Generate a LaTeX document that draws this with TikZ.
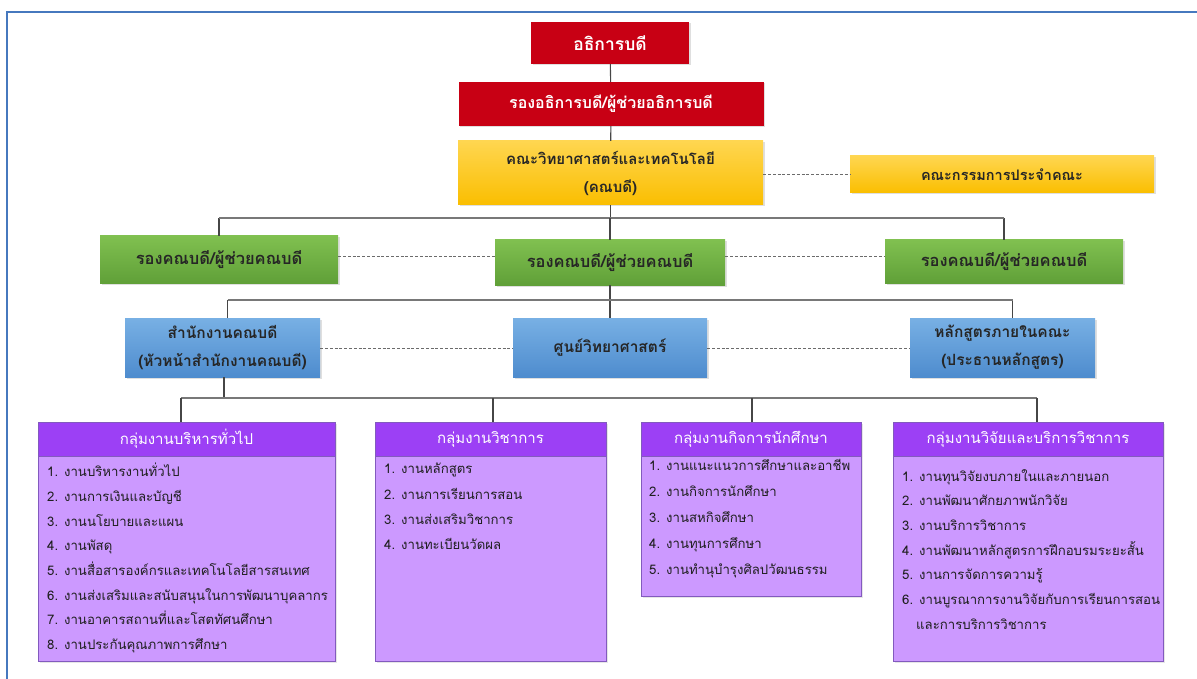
\documentclass[tikz,border=0pt]{standalone}
\usepackage{fontspec}
\setmainfont[Script=Thai]{Loma}
\usetikzlibrary{shadows,calc}
\definecolor{redbox}{RGB}{200,0,20}
\definecolor{yeltop}{RGB}{255,214,80}
\definecolor{yelbot}{RGB}{250,190,0}
\definecolor{grtop}{RGB}{128,192,80}
\definecolor{grbot}{RGB}{96,160,56}
\definecolor{bltop}{RGB}{120,176,228}
\definecolor{blbot}{RGB}{78,140,206}
\definecolor{purhead}{RGB}{156,64,245}
\definecolor{purbody}{RGB}{204,153,255}
\definecolor{purline}{RGB}{130,90,190}
\definecolor{frameblue}{RGB}{70,120,190}
\definecolor{linegray}{RGB}{70,70,70}
\definecolor{busgray}{RGB}{120,120,120}
\tikzset{
  box/.style={rectangle, inner sep=2pt, align=center, font=\fontsize{16}{28}\selectfont\bfseries,
    drop shadow={opacity=0.25, shadow xshift=1.5pt, shadow yshift=-1.5pt}},
  redb/.style={box, fill=redbox, text=white},
  yelb/.style={box, top color=yeltop, bottom color=yelbot, text=black!85, font=\fontsize{15}{28}\selectfont\bfseries},
  greenb/.style={box, top color=grtop, bottom color=grbot, text=black!85, font=\fontsize{16.5}{28}\selectfont\bfseries},
  blueb/.style={box, top color=bltop, bottom color=blbot, text=black!85, font=\fontsize{15.5}{28}\selectfont\bfseries},
  phead/.style={rectangle, fill=purhead, draw=purline, line width=0.6pt, text=white, inner sep=0pt,
    font=\fontsize{15}{18}\selectfont, minimum height=34pt},
  pbody/.style={rectangle, fill=purbody, draw=purline, line width=0.8pt, inner sep=0pt,
    drop shadow={opacity=0.2, shadow xshift=1.5pt, shadow yshift=-1.5pt}},
  plist/.style={anchor=north west, align=left, inner sep=0pt, text=black!88,
    font=\fontsize{13.2}{24.7}\selectfont},
  conn/.style={draw=linegray, line width=1.1pt},
  busln/.style={draw=busgray, line width=1.3pt},
  dashln/.style={draw=linegray!80, line width=0.9pt, dash pattern=on 3pt off 1.8pt},
}
\begin{document}
\begin{tikzpicture}[x=1pt,y=-1pt]
\useasboundingbox (0,0) rectangle (1197,679);
% frame
\draw[frameblue, line width=2.2pt] (7,679) -- (7,12) -- (1197,12);

% top boxes
\node[redb, minimum width=158pt, minimum height=42pt, font=\fontsize{17.5}{28}\selectfont\bfseries] (vc) at (610,43) {อธิการบดี};
\node[redb, minimum width=305pt, minimum height=44pt] (vp) at (611,104) {รองอธิการบดี/ผู้ช่วยอธิการบดี};
\node[yelb, minimum width=305pt, minimum height=64pt] (dean) at (610.5,173) {คณะวิทยาศาสตร์และเทคโนโลยี\\(คณบดี)};
\node[yelb, minimum width=304pt, minimum height=37pt, font=\fontsize{14.5}{28}\selectfont\bfseries] (comm) at (1002,174.5) {คณะกรรมการประจำคณะ};

% green
\node[greenb, minimum width=238pt, minimum height=47pt] (g1) at (219,259.5) {รองคณบดี/ผู้ช่วยคณบดี};
\node[greenb, minimum width=230pt, minimum height=45pt] (g2) at (610,262.5) {รองคณบดี/ผู้ช่วยคณบดี};
\node[greenb, minimum width=238pt, minimum height=43pt] (g3) at (1004,261.5) {รองคณบดี/ผู้ช่วยคณบดี};

% blue
\node[blueb, minimum width=195pt, minimum height=59pt] (b1) at (222.5,347.5) {สำนักงานคณบดี\\(หัวหน้าสำนักงานคณบดี)};
\node[blueb, minimum width=194pt, minimum height=59pt] (b2) at (610,347.5) {ศูนย์วิทยาศาสตร์};
\node[blueb, minimum width=185pt, minimum height=59pt] (b3) at (1002.5,347.5) {หลักสูตรภายในคณะ\\(ประธานหลักสูตร)};

% purple bodies
\node[pbody, minimum width=297pt, minimum height=239pt] (p1b) at (186.5,541.5) {};
\node[pbody, minimum width=231pt, minimum height=239pt] (p2b) at (490.5,541.5) {};
\node[pbody, minimum width=220pt, minimum height=174pt] (p3b) at (751,509) {};
\node[pbody, minimum width=270pt, minimum height=239pt] (p4b) at (1028,541.5) {};
% purple headers
\node[phead, minimum width=297pt] (p1h) at (186.5,439) {กลุ่มงานบริหารทั่วไป};
\node[phead, minimum width=231pt] (p2h) at (490.5,439) {กลุ่มงานวิชาการ};
\node[phead, minimum width=220pt] (p3h) at (751,439) {กลุ่มงานกิจการนักศึกษา};
\node[phead, minimum width=270pt] (p4h) at (1028,439) {กลุ่มงานวิจัยและบริการวิชาการ};

% lists
\node[plist] (p1l) at (47,463) {1. งานบริหารงานทั่วไป\\2. งานการเงินและบัญชี\\3. งานนโยบายและแผน\\4. งานพัสดุ\\5. งานสื่อสารองค์กรและเทคโนโลยีสารสนเทศ\\6. งานส่งเสริมและสนับสนุนในการพัฒนาบุคลากร\\7. งานอาคารสถานที่และโสตทัศนศึกษา\\8. งานประกันคุณภาพการศึกษา};
\node[plist, font=\fontsize{13.2}{25.3}\selectfont] (p2l) at (384,463) {1. งานหลักสูตร\\2. งานการเรียนการสอน\\3. งานส่งเสริมวิชาการ\\4. งานทะเบียนวัดผล};
\node[plist, font=\fontsize{13.2}{26}\selectfont] (p3l) at (649,459) {1. งานแนะแนวการศึกษาและอาชีพ\\2. งานกิจการนักศึกษา\\3. งานสหกิจศึกษา\\4. งานทุนการศึกษา\\5. งานทำนุบำรุงศิลปวัฒนธรรม};
\node[plist] (p4l) at (902,469) {1. งานทุนวิจัยงบภายในและภายนอก\\2. งานพัฒนาศักยภาพนักวิจัย\\3. งานบริการวิชาการ\\4. งานพัฒนาหลักสูตรการฝึกอบรมระยะสั้น\\5. งานการจัดการความรู้\\6. งานบูรณาการงานวิจัยกับการเรียนการสอน\\\hspace*{14pt}และการบริการวิชาการ};

% connectors
\coordinate (bus1) at (0,218);
\coordinate (bus2) at (0,300);
\coordinate (bus3) at (0,398);
\coordinate (t1) at (181,398);
\coordinate (t2) at (493,398);
\coordinate (t3) at (752,398);
\coordinate (t4) at (1037,398);
\draw[conn] (vc) -- (vp);
\draw[conn] (vp) -- (dean);
\draw[conn] (dean.south) -- (dean.south |- bus1);
\draw[conn] (g1.north) -- (g1.north |- bus1);
\draw[conn] (g3.north |- bus1) -- (g3.north);
\draw[busln] (g1.north |- bus1) -- (g3.north |- bus1);
\draw[conn] (g2.north |- bus1) -- (g2.north);
\draw[conn] (g2.south) -- (b2.north);
\draw[conn] ($(b1.north)+(5,0)$) -- ($(b1.north |- bus2)+(5,0)$);
\draw[conn] ($(b3.north |- bus2)+(10,0)$) -- ($(b3.north)+(10,0)$);
\draw[busln] ($(b1.north |- bus2)+(5,0)$) -- ($(b3.north |- bus2)+(10,0)$);
\draw[conn] ($(b1.south)+(1.5,0)$) -- ($(b1.south |- bus3)+(1.5,0)$);
\draw[busln] (t1) -- (t4);
\draw[conn] (t1) -- (t1 |- p1h.north);
\draw[conn] (t2) -- (t2 |- p2h.north);
\draw[conn] (t3) -- (t3 |- p3h.north);
\draw[conn] (t4) -- (t4 |- p4h.north);
% dashed links
\draw[dashln] (dean.east |- comm.west) -- (comm.west);
\draw[dashln] (g1.east |- 0,256) -- (g2.west |- 0,256);
\draw[dashln] (g2.east |- 0,256) -- (g3.west |- 0,256);
\draw[dashln] (b1.east |- 0,348) -- (b2.west |- 0,348);
\draw[dashln] (b2.east |- 0,348) -- (b3.west |- 0,348);
\end{tikzpicture}
\end{document}
